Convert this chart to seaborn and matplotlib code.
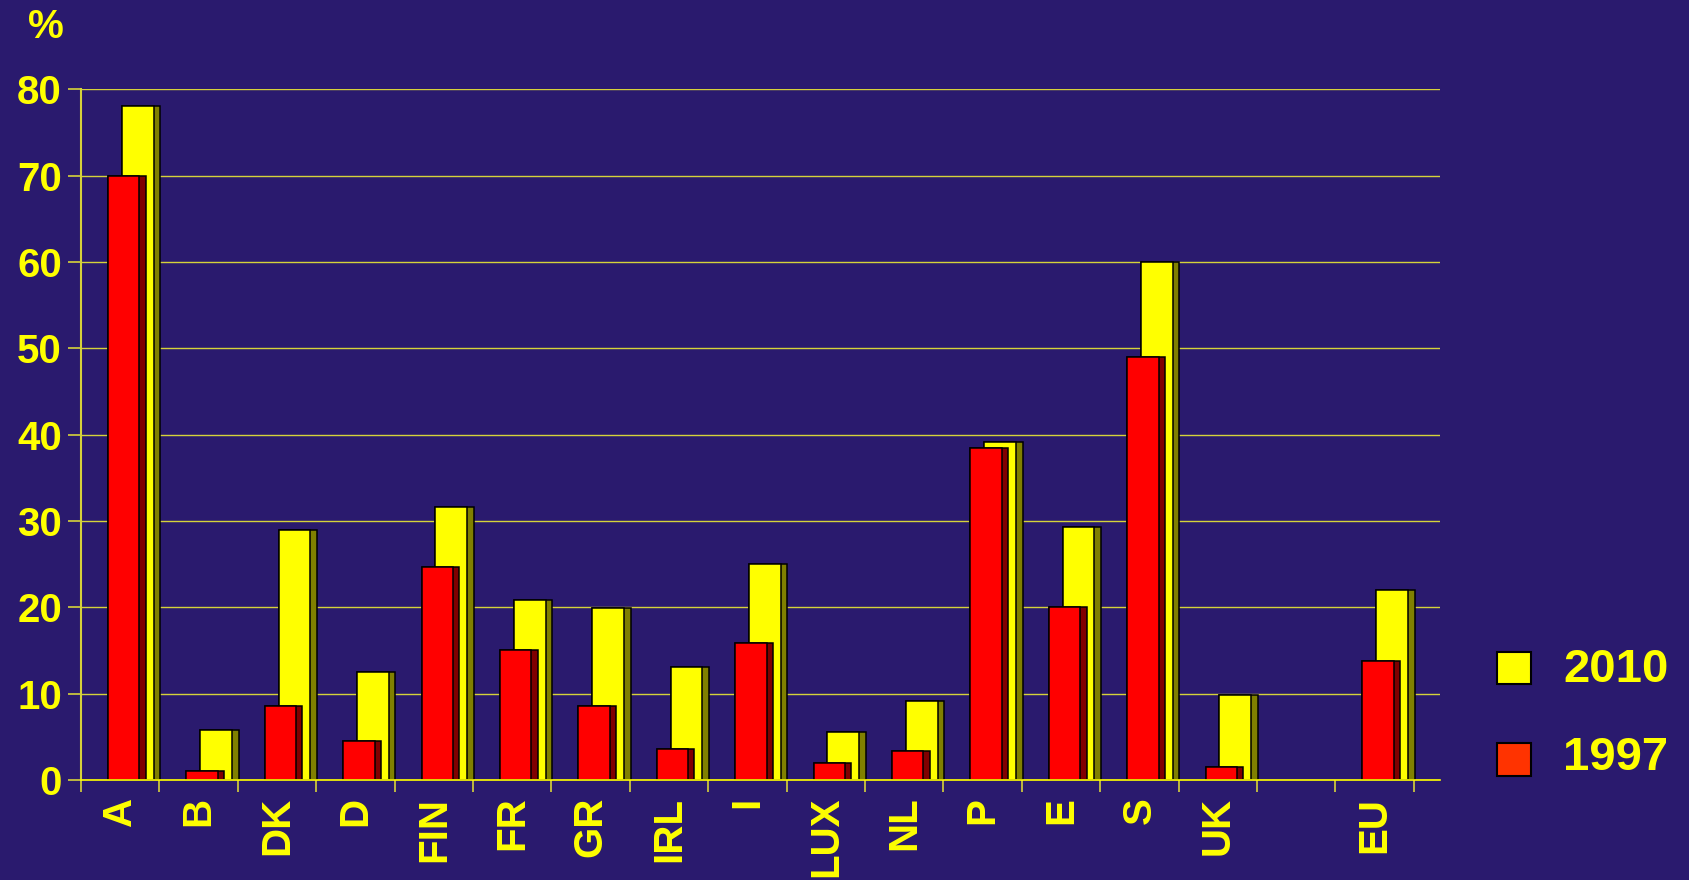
import matplotlib
matplotlib.use("Agg")
import matplotlib.pyplot as plt
from matplotlib.patches import Rectangle
import numpy as np
import seaborn as sns

# Country codes and shares (%) for the two years
countries = ["A", "B", "DK", "D", "FIN", "FR", "GR", "IRL", "I", "LUX", "NL",
             "P", "E", "S", "UK", "EU"]
share_2010 = [78.1, 5.8, 29.0, 12.5, 31.6, 20.9, 19.9, 13.1, 25.0, 5.6, 9.1,
              39.1, 29.3, 60.0, 9.9, 22.0]
share_1997 = [70.0, 1.1, 8.6, 4.5, 24.7, 15.0, 8.6, 3.6, 15.9, 2.0, 3.4,
              38.4, 20.0, 49.0, 1.5, 13.8]
y_ticks = [0, 10, 20, 30, 40, 50, 60, 70, 80]
series_labels = ["2010", "1997"]

BG = "#2a1a6e"
YELLOW = "#ffff00"
OLIVE = "#808000"
RED = "#ff0000"
DARK_RED = "#800000"
LEGEND_RED = "#ff3300"
GRID = "#d6d23a"

sns.set_style("dark", rc={"axes.facecolor": BG, "figure.facecolor": BG})
plt.rcParams["font.family"] = ["Liberation Sans", "DejaVu Sans"]
plt.rcParams["font.weight"] = "bold"

# slot positions: one empty slot before the EU aggregate
slots = np.array(list(range(len(countries) - 1)) + [len(countries)], dtype=float)

W, H = 1690, 880
fig = plt.figure(figsize=(W / 100, H / 100), dpi=100)
fig.patch.set_facecolor(BG)
ax = fig.add_axes([81 / W, 100 / H, (1440.5 - 81) / W, (780 - 89.3) / H])
ax.set_facecolor(BG)
ax.set_axisbelow(True)


def pseudo_3d_bars(left, total_w, face_w, values, face_color, side_color):
    """Bar with a darker right side strip, drawn as two seaborn bar layers."""
    common = dict(native_scale=True, errorbar=None, saturation=1,
                  edgecolor="black", linewidth=1.1, ax=ax)
    sns.barplot(x=left + total_w / 2, y=values, width=total_w,
                color=side_color, **common)
    sns.barplot(x=left + face_w / 2, y=values, width=face_w,
                color=face_color, **common)


# back series (2010) then front series (1997)
pseudo_3d_bars(slots + 0.02, 0.49, 0.405, share_2010, YELLOW, OLIVE)
pseudo_3d_bars(slots - 0.155, 0.48, 0.40, share_1997, RED, DARK_RED)

ax.set_xlim(-0.5, slots[-1] + 0.5 + 0.34)
ax.set_ylim(0, 80)

# y axis
ax.set_yticks(y_ticks)
ax.set_yticklabels([str(t) for t in y_ticks])
ax.yaxis.grid(True, color=GRID, linewidth=1.0)
ax.xaxis.grid(False)
ax.tick_params(axis="y", length=9.4, width=1.2, color=GRID, pad=4.3,
               labelsize=29, labelcolor=YELLOW, left=True)

# x axis: labels at slot centres, tick marks at slot boundaries
ax.set_xticks(slots)
ax.set_xticklabels(countries, rotation=90, va="top", ha="center")
ax.set_xticks(np.arange(-0.5, slots[-1] + 0.51, 1.0), minor=True)
ax.tick_params(axis="x", which="major", length=0, pad=12, labelsize=29,
               labelcolor=YELLOW)
ax.tick_params(axis="x", which="minor", length=8.6, width=1.2, color=GRID,
               bottom=True)
for lbl in ax.get_xticklabels() + ax.get_yticklabels():
    lbl.set_fontweight("bold")

ax.set_xlabel("")
ax.set_ylabel("")
for side in ["top", "right"]:
    ax.spines[side].set_visible(False)
ax.spines["left"].set_color(GRID)
ax.spines["left"].set_linewidth(1.5)
ax.spines["bottom"].set_color(YELLOW)
ax.spines["bottom"].set_linewidth(1.2)

# unit label
fig.text(28 / W, 1 - 8 / H, "%", color=YELLOW, fontsize=29,
         fontweight="bold", ha="left", va="top")

# legend
legend_items = [(series_labels[0], YELLOW, 651.7, 670.0),
                (series_labels[1], LEGEND_RED, 743.3, 757.5)]
for text, col, top, text_mid in legend_items:
    fig.add_artist(Rectangle((1497.3 / W, 1 - (top + 32.5) / H), 33.3 / W, 32.5 / H,
                             transform=fig.transFigure, facecolor=col,
                             edgecolor="black", linewidth=1.5))
    fig.text(1563 / W, 1 - text_mid / H, text, color=YELLOW, fontsize=34,
             fontweight="bold", ha="left", va="center")

fig.savefig("out.png", dpi=100, facecolor=BG)
